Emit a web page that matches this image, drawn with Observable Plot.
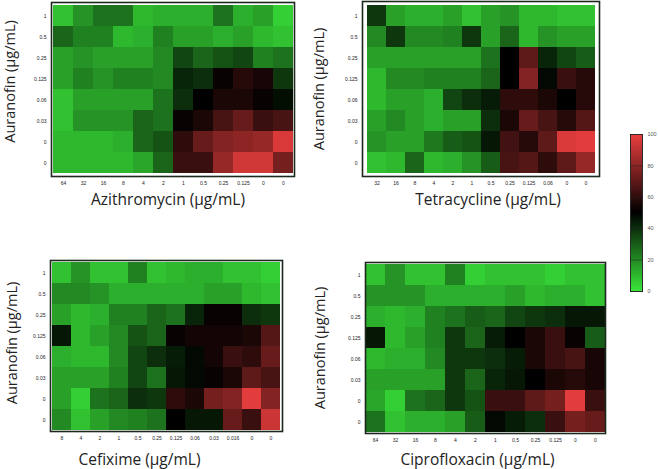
<!DOCTYPE html>
<html><head><meta charset="utf-8">
<script src="https://cdn.jsdelivr.net/npm/d3@7"></script>
<script src="https://cdn.jsdelivr.net/npm/@observablehq/plot@0.6"></script>
<style>
body{margin:0;background:#fff;width:658px;height:469px;position:relative;overflow:hidden}
.p{position:absolute}
</style></head><body>
<div id="root"></div>
<script>
const auranofinLabels = ["1","0.5","0.25","0.125","0.06","0.03","0","0"];
const azithroLabels = ["64","32","16","8","4","2","1","0.5","0.25","0.125","0","0"];
const tetraLabels = ["32","16","8","4","2","1","0.5","0.25","0.125","0.06","0","0"];
const cefiximeLabels = ["8","4","2","1","0.5","0.25","0.125","0.06","0.03","0.016","0","0"];
const ciproLabels = ["64","32","16","8","4","2","1","0.5","0.25","0.125","0","0"];
const legendTicks = [0,20,40,60,80,100];

const azithroValues = [
  [8,18,25,25,10,12,12,12,25,12,15,5],
  [28,22,22,10,12,22,15,15,12,15,10,8],
  [15,18,15,15,15,20,35,28,32,35,22,25],
  [15,22,18,22,22,20,42,40,52,58,55,38],
  [8,15,15,15,15,25,40,50,56,56,52,47],
  [8,18,18,18,28,25,52,56,65,72,62,65],
  [10,10,10,12,28,32,60,72,78,80,82,96],
  [10,10,10,10,14,28,62,62,82,94,94,75]
];
const tetraValues = [
  [38,15,12,12,15,8,15,18,10,10,8,8],
  [20,38,20,20,22,38,15,28,10,18,15,15],
  [15,15,15,15,15,15,25,50,70,42,35,30],
  [10,20,20,22,22,22,28,50,78,48,62,58],
  [10,15,15,12,35,40,44,60,60,56,50,58],
  [15,20,15,12,15,15,40,56,72,65,58,68],
  [18,15,15,24,30,32,45,64,58,70,96,98],
  [8,10,28,10,12,18,30,65,68,60,70,82]
];
const cefiximeValues = [
  [8,18,8,8,22,8,10,12,12,8,8,5],
  [20,20,18,12,12,12,12,12,15,15,10,8],
  [15,10,12,22,22,28,25,42,52,52,40,38],
  [45,10,15,20,32,28,52,54,54,54,56,68],
  [12,10,10,20,35,40,44,48,54,62,60,72],
  [15,15,15,22,35,25,45,48,52,56,70,65],
  [15,5,25,28,40,38,60,56,75,78,98,78],
  [20,8,15,20,22,25,50,45,45,72,62,93]
];
const ciproValues = [
  [8,18,8,8,22,5,8,8,8,5,8,8],
  [18,18,18,12,12,12,12,15,10,12,12,8],
  [12,10,12,22,25,30,28,35,38,40,45,45],
  [45,10,15,22,38,28,44,50,56,62,52,30],
  [10,12,12,20,38,38,40,44,56,62,65,55],
  [15,15,15,15,38,28,42,45,50,56,58,55],
  [14,5,25,28,38,32,62,62,70,75,98,62],
  [25,8,12,12,15,30,48,44,40,62,75,72]
];

const colorOpts = {type:"linear", domain:[0,50,100], range:["#3ae63a","#000000","#ec3e3e"], interpolate:"rgb"};
const root = document.getElementById("root");

function heat(values, xLabels, title, g) {
  const data = [];
  values.forEach((row, r) => row.forEach((v, c) => data.push({r, c, v})));
  const svg = Plot.plot({
    width: g.w, height: g.h,
    marginLeft: g.ml, marginRight: g.mr, marginTop: g.mt, marginBottom: g.mb,
    style: {fontFamily: "Liberation Sans, Arial, sans-serif", color: "#222", background: "transparent", overflow: "visible"},
    x: {type:"band", domain: xLabels.map((d,i)=>i), padding:0},
    y: {type:"band", domain: auranofinLabels.map((d,i)=>i), padding:0},
    color: colorOpts,
    marks: [
      Plot.cell(data, {x:"c", y:"r", fill:"v", inset:0, shapeRendering:"crispEdges"}),
      Plot.frame({stroke:"#1c281c", strokeWidth:1.6}),
      Plot.axisX({tickSize:0, tickPadding:5, fontSize:5, label:null, tickFormat: i => xLabels[i]}),
      Plot.axisY({tickSize:0, tickPadding:5, fontSize:5, label:null, tickFormat: i => auranofinLabels[i]}),
      Plot.text([title], {text: d=>d, frameAnchor:"bottom", dy:g.tdy, dx:g.tdx, fontSize:15.5, fontFamily:"Open Sans, sans-serif", fill:"#222", textAnchor:"middle", lineAnchor:"middle"}),
      Plot.text(["Auranofin (µg/mL)"], {text: d=>d, frameAnchor:"left", rotate:-90, dx:g.ydx, dy:g.ydy, fontSize:14.5, fontFamily:"Open Sans, sans-serif", fill:"#222", textAnchor:"middle", lineAnchor:"middle"})
    ]
  });
  const div = document.createElement("div");
  div.className = "p";
  div.style.left = g.left + "px";
  div.style.top = g.top + "px";
  div.appendChild(svg);
  root.appendChild(div);
}

heat(azithroValues, azithroLabels, "Azithromycin (µg/mL)",
  {left:0, top:0, w:330, h:225, ml:51, mr:36, mt:2, mb:49, tdx:-5, tdy:24, ydx:-41, ydy:-8});
heat(tetraValues, tetraLabels, "Tetracycline (µg/mL)",
  {left:300, top:0, w:358, h:225, ml:62, mr:59, mt:1, mb:49, tdx:7, tdy:24, ydx:-43, ydy:0});
heat(cefiximeValues, cefiximeLabels, "Cefixime (µg/mL)",
  {left:0, top:240, w:330, h:229, ml:50, mr:48, mt:20, mb:38, tdx:-27, tdy:29, ydx:-38, ydy:-3});
heat(ciproValues, ciproLabels, "Ciprofloxacin (µg/mL)",
  {left:300, top:240, w:358, h:229, ml:65, mr:53, mt:22, mb:36, tdx:-8, tdy:27, ydx:-45, ydy:0});

// color legend (vertical ramp)
const ramp = d3.range(0, 100, 0.5);
const legend = Plot.plot({
  width: 38, height: 175, marginLeft: 10, marginRight: 16, marginTop: 9, marginBottom: 9,
  style: {fontFamily: "Liberation Sans, Arial, sans-serif", color: "#555", background: "transparent"},
  x: {domain:[0,1], axis:null},
  y: {domain:[0,100], axis:null},
  color: colorOpts,
  marks: [
    Plot.rect(ramp, {x1:0, x2:1, y1:d=>d, y2:d=>d+0.5, fill:d=>d+0.25, shapeRendering:"crispEdges"}),
    Plot.tickY(legendTicks.slice(1,-1), {y:d=>d, stroke:"#222", strokeOpacity:0.5, inset:0}),
    Plot.frame({stroke:"#2a2a2a", strokeWidth:1}),
    Plot.axisY(legendTicks, {anchor:"right", tickSize:0, tickPadding:5, fontSize:5.5, label:null, textAnchor:"start"})
  ]
});
const ld = document.createElement("div");
ld.className = "p"; ld.style.left = "620px"; ld.style.top = "125px";
ld.appendChild(legend);
root.appendChild(ld);
</script>
</body></html>
